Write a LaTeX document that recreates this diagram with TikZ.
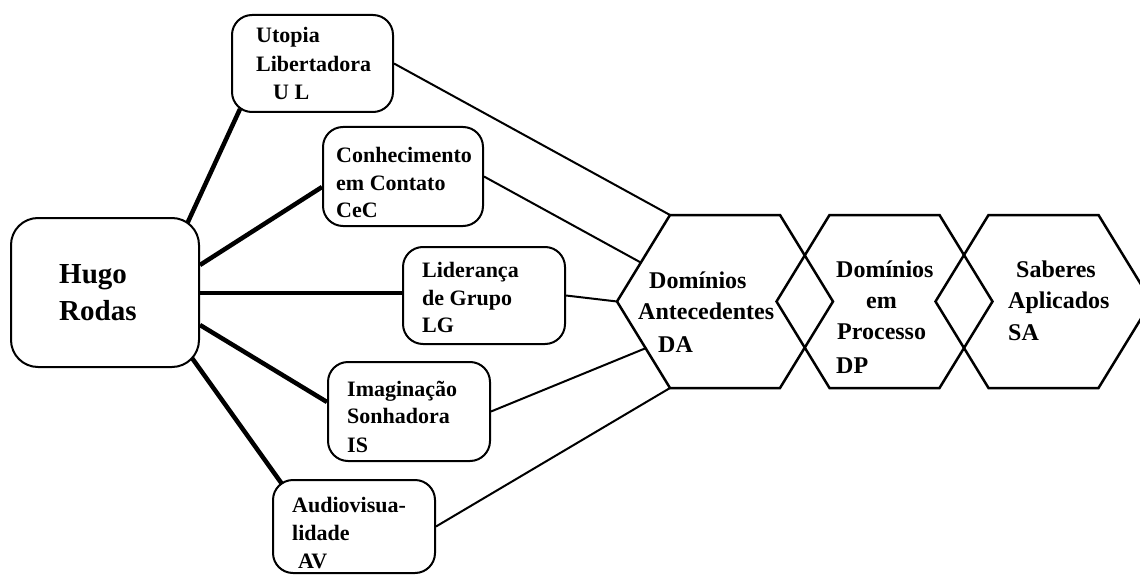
\documentclass[tikz,border=0pt]{standalone}
\usepackage{fontspec}
\setmainfont{Liberation Serif}
\usetikzlibrary{calc,backgrounds}
\newcommand\myhex[2]{%
  \coordinate (#1) at (#2);
  \coordinate (#1-l)  at ($(#1)+(-108,0)$);
  \coordinate (#1-tl) at ($(#1)+(-55,-86.5)$);
  \coordinate (#1-tr) at ($(#1)+(55,-86.5)$);
  \coordinate (#1-r)  at ($(#1)+(108,0)$);
  \coordinate (#1-br) at ($(#1)+(55,86.5)$);
  \coordinate (#1-bl) at ($(#1)+(-55,86.5)$);
  \draw[hexline] (#1-l) -- (#1-tl) -- (#1-tr) -- (#1-r) -- (#1-br) -- (#1-bl) -- cycle;
}
\begin{document}
\begin{tikzpicture}[x=1pt,y=-1pt,
  box/.style={draw, line width=2pt, fill=white, rounded corners=20pt, inner sep=0pt},
  bigbox/.style={box, rounded corners=27pt},
  txt/.style={anchor=base west, inner sep=0pt, font=\fontsize{22}{28}\selectfont\bfseries},
  hextxt/.style={anchor=base west, inner sep=0pt, font=\fontsize{24}{30}\selectfont\bfseries},
  bigtxt/.style={anchor=base west, inner sep=0pt, font=\fontsize{29}{36}\selectfont\bfseries},
  heavy/.style={line width=4.5pt},
  thin/.style={line width=2pt},
  hexline/.style={line width=2.5pt, line join=miter}]
\useasboundingbox (0,0) rectangle (1140,575);
\clip (0,0) rectangle (1140,575);

% boxes
\node[bigbox, minimum width=188pt, minimum height=149pt] (hugo) at (105,292.5) {};
\node[box, minimum width=161pt, minimum height=97pt] (ul) at (312.5,63.5) {};
\node[box, minimum width=160pt, minimum height=99pt] (cec) at (403,176.5) {};
\node[box, minimum width=162pt, minimum height=97pt] (lg) at (484,295.5) {};
\node[box, minimum width=162pt, minimum height=99pt] (is) at (409,411.5) {};
\node[box, minimum width=162pt, minimum height=93pt] (av) at (354,526.5) {};

% hexagons
\myhex{DA}{725,301.5}
\myhex{DP}{884.5,301.5}
\myhex{SA}{1043.5,301.5}

% texts
\node[bigtxt] (h1) at (59,283) {Hugo};
\node[bigtxt] (h2) at (59,320) {Rodas};

\node[txt] (ul1) at (256,43) {Utopia};
\node[txt] (ul2) at (256,72) {Libertadora};
\node[txt] (ul3) at (273,100) {U L};

\node[txt] (cec1) at (336,162) {Conhecimento};
\node[txt] (cec2) at (336,190) {em Contato};
\node[txt] (cec3) at (336,217) {CeC};

\node[txt] (lg1) at (422,277) {Liderança};
\node[txt] (lg2) at (422,305) {de Grupo};
\node[txt] (lg3) at (422,332) {LG};

\node[txt] (is1) at (347,396) {Imaginação};
\node[txt] (is2) at (347,423) {Sonhadora};
\node[txt] (is3) at (347,452) {IS};

\node[txt] (av1) at (292,512) {Audiovisua-};
\node[txt] (av2) at (292,540) {lidade};
\node[txt] (av3) at (298,568) {AV};

\node[hextxt] (da1) at (649,288) {Domínios};
\node[hextxt] (da2) at (638,319) {Antecedentes};
\node[hextxt] (da3) at (658,352) {DA};

\node[hextxt] (dp1) at (836,277) {Domínios};
\node[hextxt] (dp2) at (866,308) {em};
\node[hextxt] (dp3) at (837,339) {Processo};
\node[hextxt] (dp4) at (836,373) {DP};

\node[hextxt] (sa1) at (1016,277) {Saberes};
\node[hextxt] (sa2) at (1008,308) {Aplicados};
\node[hextxt] (sa3) at (1008,340) {SA};

% connectors
\begin{pgfonlayer}{background}
\fill[white] (0,0) rectangle (1140,575);
\draw[heavy] ($(ul.south west)+(9,-4)$) -- ($(hugo.north east)+(-13,7)$);
\draw[heavy] ($(cec.west)+(0,10.5)$) -- ($(hugo.east)+(0,-27.5)$);
\draw[heavy] ($(lg.west)+(0,-2.5)$) -- ($(hugo.east)+(0,0.5)$);
\draw[heavy] ($(is.west)+(0,-9.5)$) -- ($(hugo.east)+(0,32.5)$);
\draw[heavy] ($(av.north west)+(10,5)$) -- ($(hugo.south east)+(-8,-10)$);

\draw[thin] (ul.east) -- (DA-tl);
\draw[thin] (cec.east) -- ($(DA-l)!0.45!(DA-tl)$);
\draw[thin] (lg.east) -- (DA-l);
\draw[thin] (is.east) -- ($(DA-l)!0.54!(DA-bl)$);
\draw[thin] (av.east) -- (DA-bl);
\end{pgfonlayer}
\end{tikzpicture}
\end{document}
